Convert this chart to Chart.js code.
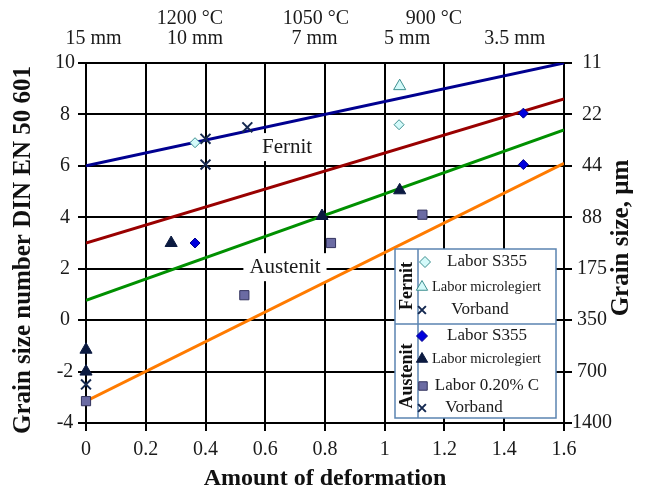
<!DOCTYPE html>
<html>
<head>
<meta charset="utf-8">
<script src="https://cdn.jsdelivr.net/npm/chart.js@4.4.1/dist/chart.umd.min.js"></script>
<style>
  body { margin: 0; background: #fff; }
  #chartContainer { display: block; }
</style>
</head>
<body>
<canvas id="chartContainer" width="645" height="491"></canvas>
<script>
// axes
var xTicks = [0, 0.2, 0.4, 0.6, 0.8, 1.0, 1.2, 1.4, 1.6];
var gradeTicks = [-4, -2, 0, 2, 4, 6, 8, 10];
var grainSizeLabels = ['1400', '700', '350', '175', '88', '44', '22', '11'];  // same order as gradeTicks
var thicknessPos = [0.025, 0.365, 0.765, 1.075, 1.435];
var thicknessLabels = ['15 mm', '10 mm', '7 mm', '5 mm', '3.5 mm'];
var tempPos = [0.348, 0.77, 1.165];
var tempLabels = ['1200 °C', '1050 °C', '900 °C'];

// fitted lines (end points)
var lineX = [0, 1.6];
var blueLineY = [6.0, 10.0];
var redLineY = [3.0, 8.6];
var greenLineY = [0.77, 7.4];
var orangeLineY = [-3.15, 6.1];

// Fernit measurements
var fernitS355X = [0.365, 1.048];
var fernitS355Y = [6.9, 7.6];
var fernitMicroX = [1.05];
var fernitMicroY = [9.1];
var fernitVorbandX = [0.40, 0.40, 0.54];
var fernitVorbandY = [7.05, 6.05, 7.5];

// Austenit measurements
var austS355X = [0.365, 1.464, 1.464];
var austS355Y = [3.0, 8.05, 6.05];
var austMicroX = [0, 0, 0.285, 0.79, 1.05];
var austMicroY = [-1.15, -2.0, 3.0, 4.05, 5.05];
var austCX = [0, 0.53, 0.82, 1.126];
var austCY = [-3.15, 0.97, 3.0, 4.1];
var austVorbandX = [0];
var austVorbandY = [-2.5];

// text in the plot
var regionNames = ['Fernit', 'Austenit'];
var regionX = [0.673, 0.666];
var regionY = [6.73, 2.06];

var serif = "'Liberation Serif', 'Times New Roman', serif";
Chart.defaults.font.family = serif;
Chart.defaults.color = '#1a1a1a';

function pts(xs, ys) {
  return xs.map((x, i) => ({x: x, y: ys[i]}));
}

function pointSet(label, xs, ys, style, radius, fill, border, bw) {
  return {
    label: label, data: pts(xs, ys), showLine: false, clip: false,
    pointStyle: style, pointRadius: radius, pointHoverRadius: radius,
    backgroundColor: fill, borderColor: border, pointBorderWidth: bw, borderWidth: bw
  };
}

function lineSet(ys, color) {
  return {
    data: pts(lineX, ys), showLine: true, pointRadius: 0, borderColor: color,
    borderWidth: 3, fill: false, tension: 0
  };
}

var teal = '#3d8f8f', tealFill = '#d4fafa', navy = '#0b1a40', crossCol = '#142850';

var datasets = [
  pointSet('Labor S355', fernitS355X, fernitS355Y, 'rectRot', 5, tealFill, teal, 1),
  pointSet('Labor microlegiert', fernitMicroX, fernitMicroY, 'triangle', 7, tealFill, teal, 1),
  pointSet('Vorband', fernitVorbandX, fernitVorbandY, 'crossRot', 7, crossCol, crossCol, 2),
  pointSet('Labor S355', austS355X, austS355Y, 'rectRot', 5, '#0000dd', '#00008b', 1),
  pointSet('Labor microlegiert', austMicroX, austMicroY, 'triangle', 7, navy, navy, 1),
  pointSet('Labor 0.20% C', austCX, austCY, 'rect', 6.5, '#6b6ba3', '#33335e', 1),
  pointSet('Vorband', austVorbandX, austVorbandY, 'crossRot', 7, crossCol, crossCol, 2),
  lineSet(blueLineY, '#000090'),
  lineSet(redLineY, '#990000'),
  lineSet(greenLineY, '#009000'),
  lineSet(orangeLineY, '#ff7b00')
];

// legend layout
var legendBox = {left: 395, right: 556, top: 249, bottom: 418, split: 418, mid: 324};
var legendGroups = [
  {name: 'Fernit', cy: 286, items: [
    {ds: 0, y: 262, mx: 425, tx: 487, align: 'center', size: 17},
    {ds: 1, y: 287, mx: 422, tx: 432, align: 'left', size: 14.5},
    {ds: 2, y: 310, mx: 422, tx: 480, align: 'center', size: 17}
  ]},
  {name: 'Austenit', cy: 376, items: [
    {ds: 3, y: 336, mx: 422, tx: 487, align: 'center', size: 17},
    {ds: 4, y: 359, mx: 422, tx: 432, align: 'left', size: 14.5},
    {ds: 5, y: 386, mx: 423, tx: 487, align: 'center', size: 17},
    {ds: 6, y: 408, mx: 422, tx: 474, align: 'center', size: 17}
  ]}
];

var extras = {
  id: 'extras',
  beforeDatasetsDraw(chart) {
    var ctx = chart.ctx, sx = chart.scales.x, sy = chart.scales.y;
    ctx.save();
    ctx.font = '21px ' + serif;
    ctx.textAlign = 'center';
    ctx.textBaseline = 'middle';
    regionNames.forEach((name, i) => {
      var px = sx.getPixelForValue(regionX[i]), py = sy.getPixelForValue(regionY[i]);
      var w = ctx.measureText(name).width + 12;
      ctx.fillStyle = '#fff';
      ctx.fillRect(px - w / 2, py - 14, w, 28);
      ctx.fillStyle = '#1a1a1a';
      ctx.fillText(name, px, py);
    });
    ctx.restore();
  },
  afterDraw(chart) {
    var ctx = chart.ctx;
    ctx.save();
    // axis titles (both read bottom to top)
    ctx.fillStyle = '#111';
    ctx.font = 'bold 25px ' + serif;
    ctx.textAlign = 'center';
    ctx.textBaseline = 'middle';
    ctx.translate(24, 250);
    ctx.rotate(-Math.PI / 2);
    ctx.fillText('Grain size number DIN EN 50 601', 0, 0);
    ctx.setTransform(1, 0, 0, 1, 0, 0);
    ctx.translate(622, 238);
    ctx.rotate(-Math.PI / 2);
    ctx.fillText('Grain size, µm', 0, 0);
    ctx.setTransform(1, 0, 0, 1, 0, 0);

    // legend
    var b = legendBox;
    ctx.fillStyle = '#fff';
    ctx.fillRect(b.left, b.top, b.right - b.left, b.bottom - b.top);
    ctx.strokeStyle = '#5b84b1';
    ctx.lineWidth = 1.5;
    ctx.strokeRect(b.left, b.top, b.right - b.left, b.bottom - b.top);
    ctx.beginPath();
    ctx.moveTo(b.split, b.top); ctx.lineTo(b.split, b.bottom);
    ctx.moveTo(b.left, b.mid); ctx.lineTo(b.right, b.mid);
    ctx.stroke();

    legendGroups.forEach(g => {
      ctx.save();
      ctx.fillStyle = '#111';
      ctx.font = 'bold 18px ' + serif;
      ctx.textAlign = 'center';
      ctx.textBaseline = 'middle';
      ctx.translate((b.left + b.split) / 2 + 1, g.cy);
      ctx.rotate(-Math.PI / 2);
      ctx.fillText(g.name, 0, 0);
      ctx.restore();

      g.items.forEach(it => {
        var ds = chart.data.datasets[it.ds];
        ctx.save();
        ctx.fillStyle = ds.backgroundColor;
        ctx.strokeStyle = ds.borderColor;
        ctx.lineWidth = ds.borderWidth;
        var r = ds.pointStyle === 'triangle' ? 6.5 : (ds.pointStyle === 'rect' ? 6 : 5.5);
        Chart.helpers.drawPoint(ctx, {pointStyle: ds.pointStyle, radius: r, rotation: 0, borderWidth: ds.borderWidth}, it.mx, it.y);
        ctx.restore();
        ctx.fillStyle = '#1a1a1a';
        ctx.font = it.size + 'px ' + serif;
        ctx.textAlign = it.align;
        ctx.textBaseline = 'middle';
        ctx.fillText(ds.label, it.tx, it.y);
      });
    });
    ctx.restore();
  }
};

var blackGrid = {color: '#000', lineWidth: 2, tickLength: 8, tickColor: '#000'};

var ctx = document.getElementById('chartContainer').getContext('2d');
new Chart(ctx, {
  type: 'scatter',
  data: {datasets: datasets},
  plugins: [extras],
  options: {
    responsive: false,
    animation: false,
    layout: {padding: 0},
    plugins: {legend: {display: false}, tooltip: {enabled: false}},
    scales: {
      x: {
        type: 'linear', position: 'bottom', min: 0, max: 1.6,
        afterBuildTicks: s => { s.ticks = xTicks.map(v => ({value: v})); },
        afterFit: s => { s.height = 68; },
        ticks: {font: {size: 20}, padding: 7, autoSkip: false, maxRotation: 0,
                callback: v => String(Math.round(v * 10) / 10)},
        grid: blackGrid,
        border: {display: true, color: '#000', width: 2},
        title: {display: true, text: 'Amount of deformation', color: '#111',
                font: {size: 24, weight: 'bold', lineHeight: 1}, padding: {top: 0, bottom: 0}}
      },
      y: {
        type: 'linear', position: 'left', min: -4, max: 10,
        afterBuildTicks: s => { s.ticks = gradeTicks.map(v => ({value: v})); },
        afterFit: s => { s.width = 86; },
        ticks: {font: {size: 20}, padding: 3, crossAlign: 'center'},
        grid: blackGrid,
        border: {display: true, color: '#000', width: 2}
      },
      y2: {
        type: 'linear', position: 'right', min: -4, max: 10,
        afterBuildTicks: s => { s.ticks = gradeTicks.map(v => ({value: v})); },
        afterFit: s => { s.width = 81; },
        ticks: {font: {size: 20}, padding: 0, crossAlign: 'center',
                callback: (v, i) => grainSizeLabels[i]},
        grid: {drawOnChartArea: false, color: '#000', lineWidth: 2, tickLength: 8},
        border: {display: true, color: '#000', width: 2}
      },
      xTop: {
        type: 'linear', position: 'top', min: 0, max: 1.6, weight: 0,
        afterBuildTicks: s => { s.ticks = thicknessPos.map(v => ({value: v})); },
        afterFit: s => { s.height = 33; },
        ticks: {font: {size: 20}, padding: 12, autoSkip: false, maxRotation: 0,
                callback: (v, i) => thicknessLabels[i]},
        grid: {display: false, drawTicks: false},
        border: {display: false}
      },
      xTemp: {
        type: 'linear', position: 'top', min: 0, max: 1.6, weight: 1,
        afterBuildTicks: s => { s.ticks = tempPos.map(v => ({value: v})); },
        afterFit: s => { s.height = 30; },
        ticks: {font: {size: 20}, padding: -1, autoSkip: false, maxRotation: 0,
                callback: (v, i) => tempLabels[i]},
        grid: {display: false, drawTicks: false},
        border: {display: false}
      }
    }
  }
});
</script>
</body>
</html>
